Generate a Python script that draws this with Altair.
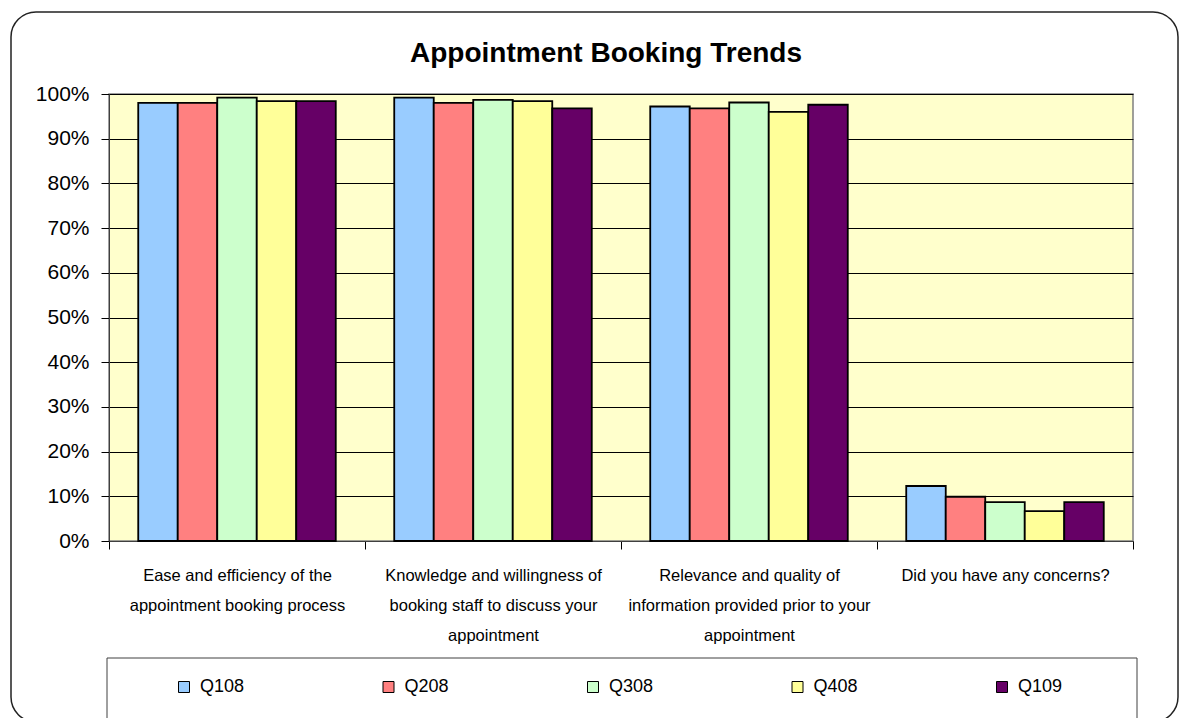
import altair as alt
import pandas as pd

title_text = "Appointment Booking Trends"
categories = [
    "Ease and efficiency of the|appointment booking process",
    "Knowledge and willingness of|booking staff to discuss your|appointment",
    "Relevance and quality of|information provided prior to your|appointment",
    "Did you have any concerns?",
]
series = ["Q108", "Q208", "Q308", "Q408", "Q109"]
colors = ["#99CCFF", "#FF8080", "#CCFFCC", "#FFFF99", "#660066"]
q108 = [0.980, 0.992, 0.972, 0.123]
q208 = [0.980, 0.980, 0.968, 0.099]
q308 = [0.992, 0.987, 0.981, 0.087]
q408 = [0.984, 0.984, 0.960, 0.067]
q109 = [0.984, 0.968, 0.976, 0.087]
y_ticks = [0.0, 0.1, 0.2, 0.3, 0.4, 0.5, 0.6, 0.7, 0.8, 0.9, 1.0]

values = {"Q108": q108, "Q208": q208, "Q308": q308, "Q408": q408, "Q109": q109}
rows = []
for s in series:
    for c, v in zip(categories, values[s]):
        rows.append({"category": c, "series": s, "value": v})
df = pd.DataFrame(rows)

FONT = "Liberation Sans"

bars = alt.Chart(df).mark_bar(stroke="black", strokeWidth=1.8).encode(
    x=alt.X(
        "category:N", sort=categories, title=None,
        scale=alt.Scale(paddingInner=0, paddingOuter=0),
        axis=alt.Axis(
            labelExpr="split(datum.label, '|')", labelAngle=0, tickBand="extent",
            labelFont=FONT, labelFontSize=16.5, labelLineHeight=30, labelPadding=18,
            tickSize=8, tickColor="black", domainColor="#404040", grid=False,
            labelColor="black", labelLimit=400, labelOverlap=False,
        ),
    ),
    xOffset=alt.XOffset("series:N", sort=series,
                        scale=alt.Scale(paddingInner=0, paddingOuter=0.74)),
    y=alt.Y(
        "value:Q", title=None, scale=alt.Scale(domain=[0, 1]),
        axis=alt.Axis(
            values=y_ticks, format=".0%", labelFont=FONT, labelFontSize=21,
            labelColor="black", tickSize=8, tickColor="black", labelPadding=12,
            grid=True, gridColor="black", gridWidth=1, domainColor="#404040",
        ),
    ),
    color=alt.Color(
        "series:N", sort=series, scale=alt.Scale(domain=series, range=colors),
        legend=alt.Legend(
            title=None, orient="none", legendX=66, legendY=584, direction="horizontal",
            columns=5, gridAlign="all", columnPadding=134.5, symbolType="square",
            symbolSize=121, symbolStrokeColor="black", symbolStrokeWidth=1,
            labelFontSize=18, labelFont=FONT, labelOffset=7, padding=0,
            labelColor="black",
        ),
    ),
)

one = pd.DataFrame({"t": [title_text]})

frame = alt.Chart(one).mark_rect(
    fill="white", fillOpacity=0, stroke="#222222", strokeWidth=1.5, cornerRadius=25
).encode(x=alt.value(-98), x2=alt.value(1069), y=alt.value(-82), y2=alt.value(628))

legend_box = alt.Chart(one).mark_rect(
    fill="white", stroke="#404040", strokeWidth=1
).encode(x=alt.value(-2), x2=alt.value(1028), y=alt.value(564), y2=alt.value(640))

title = alt.Chart(one).mark_text(
    fontSize=28, fontWeight="bold", font=FONT, baseline="alphabetic", align="center",
    color="black",
).encode(text="t:N", x=alt.value(497), y=alt.value(-32))

chart = alt.layer(frame, legend_box, bars, title).properties(
    width=1024, height=447,
    autosize=alt.AutoSizeParams(type="none"),
    padding={"left": 101, "top": 86, "right": 47, "bottom": 177},
    background="white",
).configure_view(fill="#FFFFCC", stroke="#808080", strokeWidth=1.5)

chart.save("out.html", embed_options={"renderer": "svg", "actions": False})
